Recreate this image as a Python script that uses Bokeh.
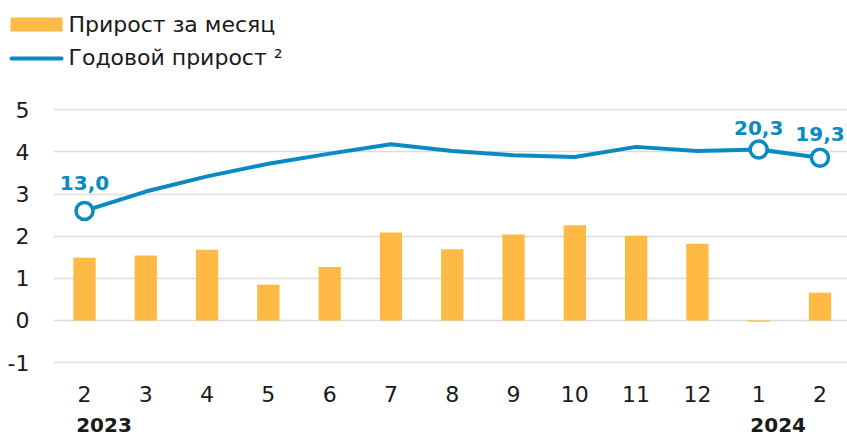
from bokeh.plotting import figure
from bokeh.models import (Range1d, FixedTicker, Label, ColumnDataSource, LinearAxis)
from bokeh.core.properties import value
from bokeh.embed import file_html
from bokeh.resources import INLINE

# ---------------- data ----------------
months = ["2", "3", "4", "5", "6", "7", "8", "9", "10", "11", "12", "1", "2"]
years = ["2023", "2024"]
year_start_idx = [0, 11]
monthly_growth = [1.49, 1.54, 1.68, 0.85, 1.27, 2.09, 1.69, 2.04, 2.26, 2.01, 1.82, -0.03, 0.66]
annual_growth = [13.0, 15.3, 17.1, 18.6, 19.8, 20.9, 20.1, 19.6, 19.4, 20.6, 20.1, 20.3, 19.3]
labelled_idx = [0, 11, 12]
y_ticks = [-1, 0, 1, 2, 3, 4, 5]
series_names = ["Прирост за месяц", "Годовой прирост ²"]

# ---------------- style ----------------
LINE_SCALE = 5.0          # annual growth drawn on the same axis, divided by 5
FONT = "DejaVu Sans"
BAR_COLOR = "#FFBA45"
LINE_COLOR = "#0A8AC2"
TEXT_COLOR = "#1a1a1a"
GRID_COLOR = "#dcdcdc"

W, H = 847, 435
PX_PER_CAT = 61.29        # horizontal pixels per month
PX_PER_UNIT = 42.13       # vertical pixels per 1 %
CAT0_PX = 84              # pixel x of first month
Y5_PX = 109.3             # pixel y of the value 5
PLOT_LEFT_PX = 53         # where gridlines start
XAXIS_PX = 370            # month labels hang below this
YEARAXIS_PX = 405         # year labels hang below this

# legend geometry (pixels)
SW_X0, SW_X1 = 10, 62
ROW_Y = [24, 57]
BAR_SW_H = 14
TXT_X = 68

def px_to_x(px):
    return (px - CAT0_PX) / PX_PER_CAT

def px_to_y(py):
    return 5 - (py - Y5_PX) / PX_PER_UNIT

x = list(range(len(months)))
line_y = [v / LINE_SCALE for v in annual_growth]

bar_src = ColumnDataSource(dict(x=x, top=monthly_growth))
line_src = ColumnDataSource(dict(x=x, y=line_y))
pts_src = ColumnDataSource(dict(
    x=[x[i] for i in labelled_idx],
    y=[line_y[i] for i in labelled_idx],
    lab=[f"{annual_growth[i]:.1f}".replace(".", ",") for i in labelled_idx],
))

x_start, x_end = px_to_x(0), px_to_x(W)
year_shift = 19.5 / PX_PER_CAT

p = figure(width=W, height=H, output_backend="svg", toolbar_location=None,
           x_range=Range1d(x_start, x_end), y_range=Range1d(px_to_y(H), px_to_y(0)),
           min_border=0)
p.outline_line_color = None
p.extra_x_ranges = {"years": Range1d(x_start - year_shift, x_end - year_shift),
                    "px": Range1d(0, W)}
p.extra_y_ranges = {"px": Range1d(H, 0)}

# grid
p.xgrid.grid_line_color = None
p.ygrid.ticker = FixedTicker(ticks=y_ticks)
p.ygrid.grid_line_color = GRID_COLOR
p.ygrid.grid_line_width = 1.5
p.ygrid.cross_bounds = (px_to_x(PLOT_LEFT_PX), x_end)

# series
p.vbar(x="x", top="top", width=0.364, source=bar_src,
       fill_color=BAR_COLOR, line_color=None)
p.line(x="x", y="y", source=line_src, line_color=LINE_COLOR,
       line_width=4, line_join="round")
p.scatter(x="x", y="y", source=pts_src, size=17, marker="circle",
          fill_color="white", line_color=LINE_COLOR, line_width=3.5)

for i, dy in zip(range(len(labelled_idx)), [28, 21, 24]):
    p.add_layout(Label(x=pts_src.data["x"][i], y=pts_src.data["y"][i],
                       text=pts_src.data["lab"][i], y_offset=dy,
                       text_align="center", text_baseline="middle",
                       text_font=FONT, text_font_size="20px",
                       text_font_style="bold", text_color=LINE_COLOR))

# axes (drawn at fixed locations inside the frame)
p.xaxis.ticker = FixedTicker(ticks=x)
p.xaxis.major_label_overrides = {i: m for i, m in zip(x, months)}
p.xaxis.fixed_location = px_to_y(XAXIS_PX)
p.yaxis.ticker = FixedTicker(ticks=y_ticks)
p.yaxis.major_label_overrides = {t: str(t) for t in y_ticks}
p.yaxis.fixed_location = px_to_x(PLOT_LEFT_PX)
for ax in (p.xaxis[0], p.yaxis[0]):
    ax.axis_line_color = None
    ax.major_tick_line_color = None
    ax.minor_tick_line_color = None
    ax.major_label_text_font = FONT
    ax.major_label_text_font_size = "22px"
    ax.major_label_text_color = TEXT_COLOR
p.xaxis.major_label_standoff = 9
p.yaxis.major_label_standoff = 18

year_axis = LinearAxis(x_range_name="years", fixed_location=px_to_y(YEARAXIS_PX),
                       ticker=FixedTicker(ticks=year_start_idx),
                       major_label_overrides={i: y for i, y in zip(year_start_idx, years)},
                       axis_line_color=None, major_tick_line_color=None,
                       minor_tick_line_color=None, major_label_standoff=6,
                       major_label_text_font=FONT, major_label_text_font_size="20px",
                       major_label_text_font_style="bold",
                       major_label_text_color=TEXT_COLOR)
p.add_layout(year_axis, "below")

# legend
p.quad(left=SW_X0, right=SW_X1, top=ROW_Y[0] - BAR_SW_H / 2,
       bottom=ROW_Y[0] + BAR_SW_H / 2, fill_color=BAR_COLOR, line_color=None,
       x_range_name="px", y_range_name="px")
p.segment(x0=SW_X0 + 1, x1=SW_X1 - 1, y0=ROW_Y[1] + 1, y1=ROW_Y[1] + 1,
          line_color=LINE_COLOR, line_width=4, line_cap="round",
          x_range_name="px", y_range_name="px")
p.text(x=[TXT_X, TXT_X], y=ROW_Y, text=series_names,
       text_font=value(FONT), text_font_size="22px", text_color=TEXT_COLOR,
       text_align="left", text_baseline="middle",
       x_range_name="px", y_range_name="px")

open("out.html", "w").write(file_html(p, INLINE))
